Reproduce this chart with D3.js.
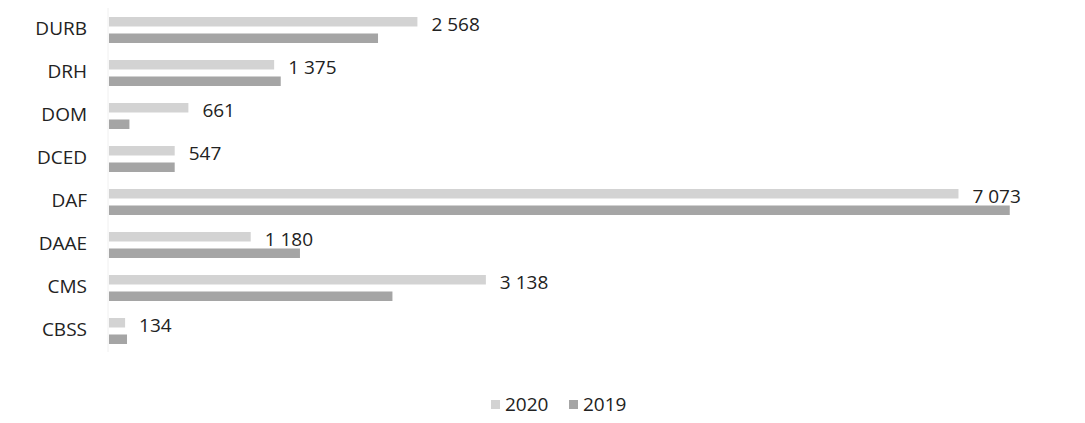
<!DOCTYPE html>
<html>
<meta charset="utf-8">
<title>Bars 2020 / 2019</title>
<script src="https://d3js.org/d3.v7.min.js"></script>
<style>
body { margin: 0; background: #fff; }
text { font-family: "Open Sans", "Noto Sans", sans-serif; fill: #222; }
</style>
<body>
<svg width="1085" height="423"></svg>
<script>
var categories = ["DURB", "DRH", "DOM", "DCED", "DAF", "DAAE", "CMS", "CBSS"];
var series = ["2020", "2019"];
var values2020 = [2568, 1375, 661, 547, 7073, 1180, 3138, 134];
var values2019 = [2240, 1430, 170, 547, 7500, 1590, 2360, 150];
var colors = ["#d3d3d3", "#a5a5a5"];

var svg = d3.select("svg");

var x = d3.scaleLinear().domain([0, 8000]).range([109, 109 + 8000 * 0.1201]);
var y = d3.scaleBand().domain(categories).range([8, 352]);
var ySub = d3.scaleBand().domain(series).range([9, 35]).paddingInner(0.424);
var color = d3.scaleOrdinal().domain(series).range(colors);

var fmt = d3.formatLocale({decimal: ",", thousands: " ", grouping: [3], currency: ["", " €"]}).format(",d");

// faint axis line
svg.append("line")
  .attr("x1", x(0) - 1).attr("x2", x(0) - 1)
  .attr("y1", 8).attr("y2", 352)
  .attr("stroke", "#f0f0f0");

var rows = categories.map(function(c, i) {
  return {cat: c, v: [values2020[i], values2019[i]]};
});

var g = svg.selectAll(".row")
  .data(rows)
  .enter().append("g")
  .attr("class", "row")
  .attr("transform", function(d) { return "translate(0," + y(d.cat) + ")"; });

g.append("text")
  .attr("x", 87)
  .attr("y", 27)
  .attr("text-anchor", "end")
  .attr("font-size", 19)
  .text(function(d) { return d.cat; });

series.forEach(function(s, si) {
  g.append("rect")
    .attr("x", x(0))
    .attr("y", ySub(s))
    .attr("width", function(d) { return x(d.v[si]) - x(0); })
    .attr("height", ySub.bandwidth())
    .attr("fill", color(s));
});

g.append("text")
  .attr("x", function(d) { return x(d.v[0]) + 14; })
  .attr("y", 23)
  .attr("font-size", 19)
  .text(function(d) { return fmt(d.v[0]); });

// legend
var legend = svg.append("g").attr("transform", "translate(491,411)");
var lx = [0, 78];
series.forEach(function(s, i) {
  legend.append("rect")
    .attr("x", lx[i]).attr("y", -11)
    .attr("width", 9).attr("height", 9)
    .attr("fill", color(s));
  legend.append("text")
    .attr("x", lx[i] + 14).attr("y", 0)
    .attr("font-size", 19)
    .text(s);
});
</script>
</body>
</html>
